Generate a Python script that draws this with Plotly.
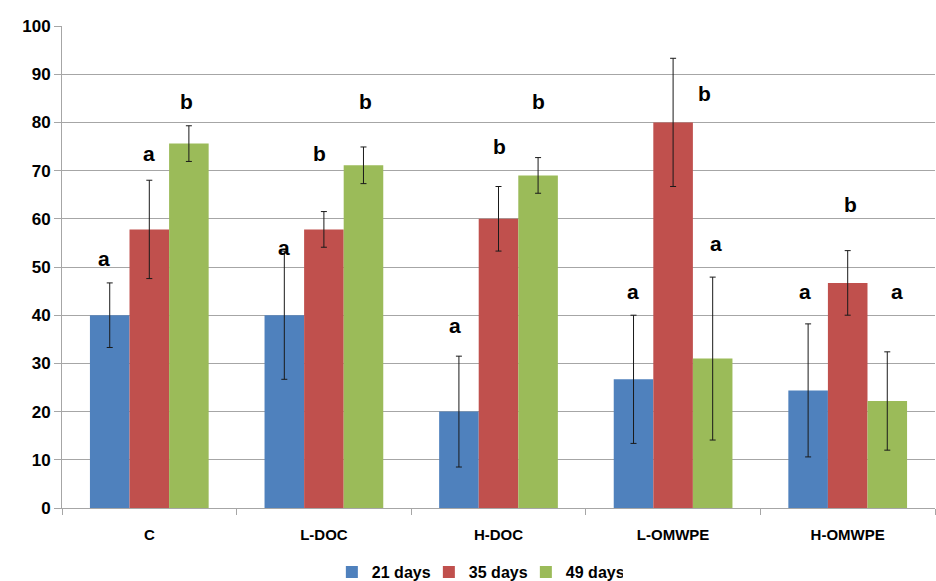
import plotly.graph_objects as go

categories = ["C", "L-DOC", "H-DOC", "L-OMWPE", "H-OMWPE"]
series_names = ["21 days", "35 days", "49 days"]
colors = ["#4F81BD", "#C0504D", "#9BBB59"]

values_21 = [40.0, 40.0, 20.0, 26.7, 24.4]
values_35 = [57.8, 57.8, 60.0, 80.0, 46.7]
values_49 = [75.6, 71.1, 69.0, 31.0, 22.2]

err_21 = [6.7, 13.3, 11.5, 13.3, 13.8]
err_35 = [10.2, 3.7, 6.7, 13.3, 6.7]
err_49 = [3.7, 3.8, 3.7, 16.9, 10.2]

letters_21 = ["a", "a", "a", "a", "a"]
letters_35 = ["a", "b", "b", "b", "b"]
letters_49 = ["b", "b", "b", "a", "a"]

# heights (data units) at which the significance letters are written
label_y_21 = [51.7, 54.0, 37.8, 45.0, 45.0]
label_y_35 = [73.6, 73.6, 75.0, 86.0, 62.9]
label_y_49 = [84.4, 84.4, 84.4, 54.8, 45.0]
# extra horizontal nudges (px) for letters
label_dx_21 = [-6, 0, -4, -1, -3]
label_dx_35 = [0, -4, 1, 31, 3]
label_dx_49 = [-2, 2, 0, 3, 10]

values = [values_21, values_35, values_49]
errors = [err_21, err_35, err_49]
letters = [letters_21, letters_35, letters_49]
label_y = [label_y_21, label_y_35, label_y_49]
label_dx = [label_dx_21, label_dx_35, label_dx_49]

W, H = 936, 581
ml, mr, mt, mb = 62, 1, 26, 73
bargap = 0.32
plot_w = W - ml - mr
bar_px = plot_w / len(categories) * (1 - bargap) / 3

font_family = "Liberation Sans, Arial, sans-serif"

fig = go.Figure()
for i in range(3):
    fig.add_trace(go.Bar(
        x=categories, y=values[i], name=series_names[i],
        marker=dict(color=colors[i], line=dict(width=0)),
        error_y=dict(type="data", array=errors[i], visible=True,
                     color="#1a1a1a", thickness=1, width=3),
    ))

annotations = []
for i in range(3):
    for j, cat in enumerate(categories):
        annotations.append(dict(
            x=cat, y=label_y[i][j], xref="x", yref="y",
            text=letters[i][j], showarrow=False,
            xshift=(i - 1) * bar_px + label_dx[i][j],
            font=dict(size=21, color="black", family=font_family, weight="bold"),
        ))

fig.update_layout(
    width=W, height=H,
    margin=dict(l=ml, r=mr, t=mt, b=mb, autoexpand=False),
    paper_bgcolor="white", plot_bgcolor="white",
    barmode="group", bargap=bargap, bargroupgap=0,
    annotations=annotations,
    showlegend=True,
    legend=dict(orientation="h", x=0.51, xanchor="center", xref="container",
                y=1 - 572 / H, yanchor="middle", yref="container",
                font=dict(size=16, color="black", family=font_family, weight="bold"),
                itemwidth=30, entrywidth=52, traceorder="normal"),
    font=dict(family=font_family, color="black"),
)
fig.update_yaxes(
    range=[0, 100], dtick=10, showgrid=True, gridcolor="#A6A6A6", gridwidth=1,
    showline=True, linecolor="#A6A6A6", linewidth=1,
    ticks="outside", ticklen=7, tickcolor="#A6A6A6",
    tickfont=dict(size=17, color="black", family=font_family, weight="bold"),
    zeroline=False, automargin=False,
)
fig.update_xaxes(
    showline=True, linecolor="#A6A6A6", linewidth=1,
    ticks="outside", ticklen=6, tickcolor="#A6A6A6", tickson="boundaries",
    tickfont=dict(size=15, color="black", family=font_family, weight="bold"),
    ticklabelstandoff=13, automargin=False,
)
fig.write_html(
    "out.html",
    config={"displayModeBar": False},
    post_script="document.body.style.margin='0';document.body.style.overflow='hidden';",
)
